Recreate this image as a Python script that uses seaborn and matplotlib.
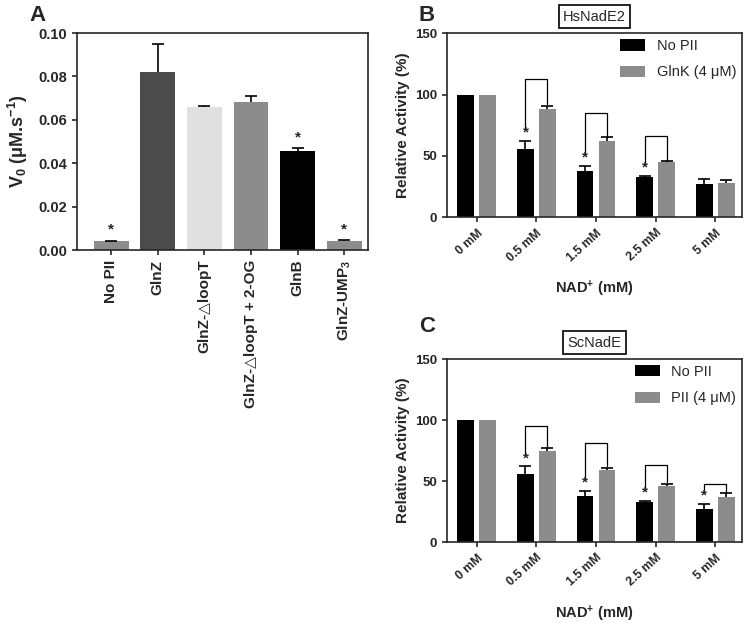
import seaborn as sns
import matplotlib.pyplot as plt
import pandas as pd

# ---- panel A data ----
a_labels = ["No PII", "GlnZ", "GlnZ-\u25b3loopT", "GlnZ-\u25b3loopT + 2-OG", "GlnB", "GlnZ-UMP$_3$"]
a_v0 = [0.0040, 0.0820, 0.0660, 0.0680, 0.0458, 0.0043]
a_err = [0.0002, 0.0130, 0.0003, 0.0030, 0.0010, 0.0002]
a_colors = ["#8c8c8c", "#4b4b4b", "#e0e0e0", "#8c8c8c", "#000000", "#8c8c8c"]
a_star = [True, False, False, False, True, True]

# ---- panels B / C data ----
nad = ["0 mM", "0.5 mM", "1.5 mM", "2.5 mM", "5 mM"]

b_nopii = [100, 56, 38, 33, 27]
b_nopii_err = [0, 6, 4, 0.5, 4]
b_glnk = [100, 88, 62, 45, 28]
b_glnk_err = [0, 3, 3, 1, 2]
b_star = [False, True, True, True, False]
b_bracket = [None, 113, 85, 66, None]

c_nopii = [100, 56, 38, 33, 27]
c_nopii_err = [0, 6, 4, 0.5, 4]
c_pii = [100, 75, 59, 46, 37]
c_pii_err = [0, 2, 2, 2, 3]
c_star = [False, True, True, True, True]
c_bracket = [None, 95, 81, 63, 47.5]

sns.set_style("ticks")
plt.rcParams["font.family"] = ["Liberation Sans", "DejaVu Sans"]
plt.rcParams["mathtext.fontset"] = "custom"
plt.rcParams["mathtext.rm"] = "Liberation Sans"
plt.rcParams["mathtext.bf"] = "Liberation Sans:bold"
plt.rcParams["mathtext.default"] = "bf"
plt.rcParams["axes.linewidth"] = 1.2
plt.rcParams["xtick.major.width"] = 1.2
plt.rcParams["ytick.major.width"] = 1.2

GRAY = "#8c8c8c"

fig = plt.figure(figsize=(7.45, 6.26), dpi=100)
axA = fig.add_axes([0.1034, 0.6006, 0.390, 0.3466])
axB = fig.add_axes([0.600, 0.653, 0.396, 0.294])
axC = fig.add_axes([0.600, 0.134, 0.396, 0.2925])


def upper_err(ax, xs, ys, errs):
    # only the upper half of each error bar, skip bars without error
    pts = [(x, y, e) for x, y, e in zip(xs, ys, errs) if e > 0]
    xs, ys, errs = zip(*pts)
    eb = ax.errorbar(xs, ys, yerr=[[0] * len(errs), list(errs)], fmt="none",
                     ecolor="black", elinewidth=1.2, capsize=4, capthick=1.2)
    eb[1][0].set_visible(False)


# ---- panel A ----
sns.barplot(x=a_labels, y=a_v0, hue=a_labels, palette=a_colors, legend=False,
            width=0.75, linewidth=0, errorbar=None, ax=axA)
xa = [p.get_x() + p.get_width() / 2 for p in axA.patches]
upper_err(axA, xa, a_v0, a_err)
for x, v, e, s in zip(xa, a_v0, a_err, a_star):
    if s:
        axA.annotate("*", (x, v + e), xytext=(0, 8), textcoords="offset points",
                     ha="center", va="center", fontsize=11, fontweight="bold")
axA.set_ylim(0, 0.10)
axA.set_xlim(-0.73, 5.5)
axA.set_yticks([0, 0.02, 0.04, 0.06, 0.08, 0.10])
axA.set_yticklabels([f"{t:.2f}" for t in axA.get_yticks()])
axA.set_ylabel("V$_0$ (\u03bcM.s$^{-1}$)", fontsize=13, fontweight="bold", labelpad=6)
axA.tick_params(axis="x", labelrotation=90, labelsize=11)
axA.tick_params(axis="y", labelsize=10.5)
for t in axA.get_xticklabels() + axA.get_yticklabels():
    t.set_fontweight("bold")
fig.text(0.05, 0.975, "A", fontsize=16, fontweight="bold", ha="center", va="center")


# ---- panels B and C ----
def panel(ax, title, second, v1, e1, v2, e2, stars, brackets, letter, ly):
    df = pd.DataFrame({
        "nad": nad * 2,
        "val": v1 + v2,
        "cond": ["No PII"] * len(nad) + [second] * len(nad),
    })
    sns.barplot(data=df, x="nad", y="val", hue="cond", palette=["black", GRAY],
                width=0.733, gap=0.23, linewidth=0, errorbar=None, ax=ax)
    x1 = [p.get_x() + p.get_width() / 2 for p in ax.containers[0]]
    x2 = [p.get_x() + p.get_width() / 2 for p in ax.containers[1]]
    upper_err(ax, x1, v1, e1)
    upper_err(ax, x2, v2, e2)
    for i in range(len(nad)):
        if stars[i]:
            ax.annotate("*", (x1[i], v1[i] + e1[i]), xytext=(0, 6),
                        textcoords="offset points", ha="center", va="center",
                        fontsize=11, fontweight="bold")
        if brackets[i] is not None:
            top = brackets[i]
            ax.plot([x1[i], x1[i], x2[i], x2[i]],
                    [v1[i] + e1[i] + 9, top, top, v2[i] + e2[i] + 1],
                    color="black", lw=0.9)
    ax.set_ylim(0, 150)
    ax.set_yticks([0, 50, 100, 150])
    ax.set_xlim(-0.5, 4.45)
    ax.set_xlabel("NAD$^{+}$ (mM)", fontsize=10.5, fontweight="bold", labelpad=11)
    ax.set_ylabel("Relative Activity (%)", fontsize=11, fontweight="bold")
    ax.tick_params(axis="y", labelsize=9.5)
    ax.tick_params(axis="x", labelsize=8.8)
    plt.setp(ax.get_xticklabels(), rotation=42, ha="right", rotation_mode="anchor")
    for t in ax.get_xticklabels() + ax.get_yticklabels():
        t.set_fontweight("bold")
    ax.legend(frameon=False, loc="upper right", fontsize=10.5, handlelength=1.7,
              handleheight=0.8, borderaxespad=0.2, labelspacing=0.85, borderpad=0.2,
              handletextpad=0.8)
    ax.set_title(title, fontsize=10.5, pad=9,
                 bbox=dict(boxstyle="square,pad=0.3", fc="white", ec="black", lw=1.2))
    fig.text(0.573, ly, letter, fontsize=16, fontweight="bold", ha="center", va="center")


panel(axB, "HsNadE2", "GlnK (4 \u03bcM)", b_nopii, b_nopii_err, b_glnk, b_glnk_err,
      b_star, b_bracket, "B", 0.975)
panel(axC, "ScNadE", "PII (4 \u03bcM)", c_nopii, c_nopii_err, c_pii, c_pii_err,
      c_star, c_bracket, "C", 0.478)

fig.savefig("out.png", dpi=100)
